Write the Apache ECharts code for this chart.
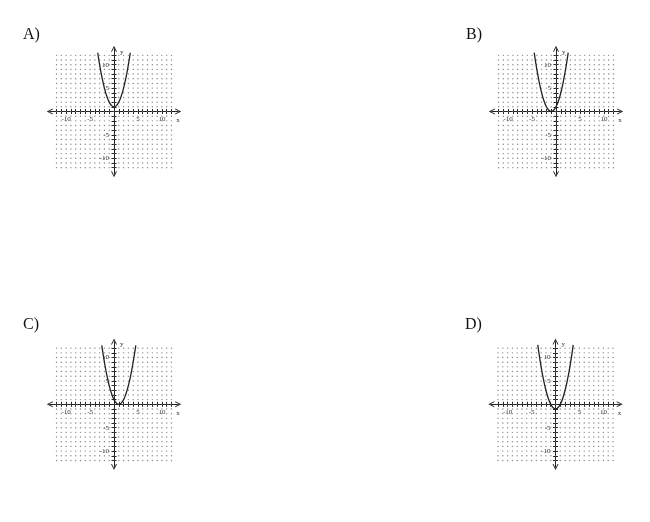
<!DOCTYPE html>
<html><head><meta charset="utf-8">
<script src="https://cdn.jsdelivr.net/npm/echarts@6/dist/echarts.min.js"></script>
<style>html,body{margin:0;padding:0;background:#fff}#c{width:650px;height:522px}</style>
</head><body><div id="c"></div>
<script>
// ---- data ----
const panelLabels = ['A)', 'B)', 'C)', 'D)'];
const gridTicks = [-12,-11,-10,-9,-8,-7,-6,-5,-4,-3,-2,-1,0,1,2,3,4,5,6,7,8,9,10,11,12];
const tickLabels = [-10, -5, 5, 10];
const axisNames = ['x', 'y'];

// A) vertex (0, 1)
const curveAX = [-3.4,-3,-2.5,-2,-1.5,-1,-0.5,0,0.5,1,1.5,2,2.5,3,3.4];
const curveAY = [12.56,10,7.25,5,3.25,2,1.25,1,1.25,2,3.25,5,7.25,10,12.56];
// B) vertex (-1, 0)
const curveBX = [-4.55,-4,-3.5,-3,-2.5,-2,-1.5,-1,-0.5,0,0.5,1,1.5,2,2.55];
const curveBY = [12.6,9,6.25,4,2.25,1,0.25,0,0.25,1,2.25,4,6.25,9,12.6];
// C) vertex (1, 0)
const curveCX = [-2.55,-2,-1.5,-1,-0.5,0,0.5,1,1.5,2,2.5,3,3.5,4,4.55];
const curveCY = [12.6,9,6.25,4,2.25,1,0.25,0,0.25,1,2.25,4,6.25,9,12.6];
// D) vertex (0, -1)
const curveDX = [-3.7,-3.5,-3,-2.5,-2,-1.5,-1,-0.5,0,0.5,1,1.5,2,2.5,3,3.5,3.7];
const curveDY = [12.69,11.25,8,5.25,3,1.25,0,-0.75,-1,-0.75,0,1.25,3,5.25,8,11.25,12.69];

// ---- layout / style ----
const curves = [[curveAX, curveAY],[curveBX, curveBY],[curveCX, curveCY],[curveDX, curveDY]];
const centers = [[114,111.5],[556,111.5],[114,404.3],[555.5,404.3]];
const labelPos = [[23,27],[466,27],[23,317],[465,317]];
const AXMAX = 13.4, HALFW = 64.2, HALFH = 62.7;
const ink = '#222';
const arrow = 'path://M0,10 L5,0 L10,10 L8.4,10 L5,3.2 L1.6,10 Z';
const tickFont = {fontFamily: 'Liberation Serif', fontSize: 7, color: '#333'};

const grid = [], xAxis = [], yAxis = [], series = [], title = [];
const dots = [];
gridTicks.forEach(a => gridTicks.forEach(b => dots.push([a, b])));

centers.forEach((c, g) => {
  grid.push({left: c[0]-HALFW, top: c[1]-HALFH, width: 2*HALFW, height: 2*HALFH, containLabel: false});
  title.push({text: panelLabels[g], left: labelPos[g][0], top: labelPos[g][1], padding: 0,
    textStyle: {fontFamily: 'Liberation Serif', fontSize: 16, fontWeight: 'normal', color: '#111'}});
  const xi = 2*g, yi = 2*g;
  // main x axis (line, arrows, ticks down, labels)
  xAxis.push({type: 'value', gridIndex: g, min: -AXMAX, max: AXMAX, position: 'bottom',
    axisLine: {show: true, onZero: true, onZeroAxisIndex: yi, symbol: [arrow, arrow], symbolSize: [6, 6],
      lineStyle: {color: ink, width: 1}},
    axisTick: {show: true, customValues: gridTicks, length: 2.5, lineStyle: {color: ink, width: 1}},
    axisLabel: Object.assign({show: true, customValues: tickLabels, margin: 4.5 - HALFH}, tickFont),
    splitLine: {show: false},
    name: axisNames[0], nameLocation: 'end', nameGap: -2,
    nameTextStyle: Object.assign({align: 'left', verticalAlign: 'top', padding: [5,0,0,0]}, tickFont)});
  // secondary x axis (ticks up)
  xAxis.push({type: 'value', gridIndex: g, min: -AXMAX, max: AXMAX, position: 'top',
    axisLine: {show: false, onZero: true, onZeroAxisIndex: yi},
    axisTick: {show: true, customValues: gridTicks, length: 2.5, lineStyle: {color: ink, width: 1}},
    axisLabel: {show: false}, splitLine: {show: false}});
  // main y axis
  yAxis.push({type: 'value', gridIndex: g, min: -AXMAX, max: AXMAX, position: 'left',
    axisLine: {show: true, onZero: true, onZeroAxisIndex: xi, symbol: [arrow, arrow], symbolSize: [6, 6],
      lineStyle: {color: ink, width: 1}},
    axisTick: {show: true, customValues: gridTicks, length: 2.5, lineStyle: {color: ink, width: 1}},
    axisLabel: Object.assign({show: true, customValues: tickLabels, margin: 5 - HALFW}, tickFont),
    splitLine: {show: false},
    name: axisNames[1], nameLocation: 'end', nameGap: -3,
    nameTextStyle: Object.assign({align: 'left', verticalAlign: 'middle', padding: [0,0,0,6]}, tickFont)});
  // secondary y axis (ticks right)
  yAxis.push({type: 'value', gridIndex: g, min: -AXMAX, max: AXMAX, position: 'right',
    axisLine: {show: false, onZero: true, onZeroAxisIndex: xi},
    axisTick: {show: true, customValues: gridTicks, length: 2.5, lineStyle: {color: ink, width: 1}},
    axisLabel: {show: false}, splitLine: {show: false}});

  series.push({type: 'scatter', xAxisIndex: xi, yAxisIndex: yi, data: dots, symbolSize: 1.4,
    itemStyle: {color: '#666'}, silent: true, z: 1, animation: false});
  const cx = curves[g][0], cy = curves[g][1];
  series.push({type: 'line', xAxisIndex: xi, yAxisIndex: yi, data: cx.map((v, i) => [v, cy[i]]),
    smooth: true, showSymbol: false, symbol: 'none', silent: true, z: 5,
    lineStyle: {color: ink, width: 1.3}, animation: false});
});

const chart = echarts.init(document.getElementById('c'), null, {renderer: 'canvas'});
chart.setOption({backgroundColor: '#fff', animation: false, title, grid, xAxis, yAxis, series});
</script>
</body></html>
